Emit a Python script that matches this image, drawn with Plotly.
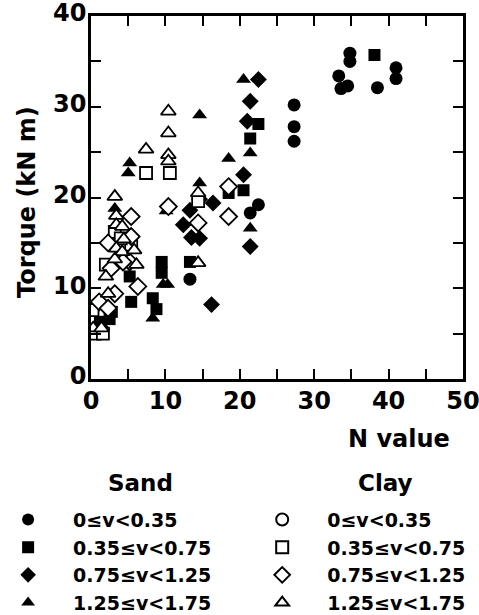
import plotly.graph_objects as go

# Torque vs. N value, grouped by soil type and velocity class v
sand_circle_n = [27.3, 27.3, 27.3, 33.3, 33.6, 34.5, 34.8, 34.8, 38.5, 41.0, 41.0, 21.4, 22.5, 13.3]
sand_circle_t = [30.2, 27.8, 26.2, 33.4, 32.0, 32.3, 35.9, 35.0, 32.1, 34.3, 33.1, 18.3, 19.2, 11.0]

sand_square_n = [38.1, 22.5, 21.4, 18.5, 20.5, 13.3, 9.5, 9.5, 8.3, 8.8, 5.4, 5.2, 2.5, 2.8, 1.2]
sand_square_t = [35.7, 28.1, 26.5, 20.5, 20.8, 12.9, 12.9, 11.7, 8.9, 7.7, 8.5, 11.3, 6.6, 7.4, 6.3]

sand_diamond_n = [22.5, 21.4, 21.0, 20.5, 21.4, 16.4, 12.4, 13.3, 13.5, 14.6, 16.2, 14.6]
sand_diamond_t = [33.0, 30.6, 28.4, 22.5, 14.6, 19.4, 17.0, 18.6, 15.6, 15.5, 8.2, 19.8]

sand_triangle_n = [20.5, 14.6, 18.5, 21.4, 21.4, 14.6, 10.1, 5.2, 5.0, 3.2, 3.2, 9.7, 10.3, 8.3, 0.3, 1.6, 4.3]
sand_triangle_t = [33.0, 29.1, 24.3, 24.9, 16.6, 21.6, 18.5, 23.8, 22.7, 18.8, 12.6, 10.4, 10.4, 6.7, 5.6, 5.8, 12.6]

clay_circle_n = []
clay_circle_t = []

clay_square_n = [10.6, 7.4, 3.2, 5.4, 2.0, 0.2, 0.5, 1.6, 14.4, 4.0]
clay_square_t = [22.7, 22.7, 16.2, 14.8, 12.6, 7.6, 5.0, 5.0, 19.6, 15.5]

clay_diamond_n = [10.4, 18.5, 18.5, 14.4, 5.4, 2.3, 3.2, 6.3, 1.1, 2.3, 5.2, 5.4, 4.3, 2.7]
clay_diamond_t = [19.0, 21.2, 17.9, 17.2, 17.9, 15.0, 9.4, 10.2, 8.5, 7.8, 12.9, 15.7, 12.9, 12.2]

clay_triangle_n = [10.4, 10.4, 10.4, 10.4, 7.4, 3.2, 3.4, 3.4, 4.2, 4.4, 3.4, 4.2, 5.8, 14.4, 14.4,
                   6.1, 2.0, 2.3, 0.3, 1.4, 3.2]
clay_triangle_t = [29.5, 27.1, 24.7, 24.0, 25.3, 20.1, 18.0, 17.0, 16.8, 15.4, 14.4, 14.0, 14.2, 12.8, 20.5,
                   12.6, 11.3, 9.4, 5.6, 5.6, 13.2]

class_labels = ["0\u2264v<0.35", "0.35\u2264v<0.75", "0.75\u2264v<1.25", "1.25\u2264v<1.75"]

FONT = "DejaVu Sans, sans-serif"

fig = go.Figure()

sand_sets = [
    (sand_circle_n, sand_circle_t, "circle", 13),
    (sand_square_n, sand_square_t, "square", 12),
    (sand_diamond_n, sand_diamond_t, "diamond", 13),
    (sand_triangle_n, sand_triangle_t, "triangle-up", 13),
]
clay_sets = [
    (clay_circle_n, clay_circle_t, "circle", 12),
    (clay_square_n, clay_square_t, "square", 12),
    (clay_diamond_n, clay_diamond_t, "diamond", 13),
    (clay_triangle_n, clay_triangle_t, "triangle-up", 13),
]

for i, (xs, ys, sym, size) in enumerate(sand_sets):
    fig.add_trace(go.Scatter(
        x=xs if xs else [None], y=ys if ys else [None], mode="markers",
        name=class_labels[i], legend="legend", legendgroup=f"s{i}",
        marker=dict(symbol=sym, size=size, color="black", line=dict(width=0)),
    ))

for i, (xs, ys, sym, size) in enumerate(clay_sets):
    fig.add_trace(go.Scatter(
        x=xs if xs else [None], y=ys if ys else [None], mode="markers",
        name=class_labels[i], legend="legend2", legendgroup=f"c{i}",
        marker=dict(symbol=sym, size=size, color="white", line=dict(width=1.8, color="black")),
    ))

axis_common = dict(
    showline=True, linewidth=2.5, linecolor="black", mirror="allticks",
    ticks="inside", ticklen=10, tickwidth=2, tickcolor="black",
    showgrid=False, zeroline=False, dtick=10, automargin=False,
    ticklabeloverflow="allow",
    minor=dict(dtick=5, ticks="inside", ticklen=10, tickwidth=2, tickcolor="black", showgrid=False),
    tickfont=dict(family=FONT, size=24, color="black", weight="bold"),
)

fig.update_xaxes(range=[0, 50], ticklabelstandoff=-2, **axis_common)
fig.update_yaxes(range=[0, 40], ticklabelstandoff=-3, ticklabelshift=-3, **axis_common)

legend_common = dict(
    orientation="v", yanchor="top", xanchor="left",
    font=dict(family=FONT, size=19, color="black", weight="bold"),
    bgcolor="rgba(0,0,0,0)", borderwidth=0, itemwidth=80, tracegroupgap=0,
    itemsizing="constant", itemclick=False, itemdoubleclick=False,
)

title_font = dict(family=FONT, size=24, color="black", weight="bold")
head_font = dict(family=FONT, size=23, color="black", weight="bold")

fig.update_layout(
    width=479, height=615,
    margin=dict(l=91, r=16, t=16, b=236, autoexpand=False),
    paper_bgcolor="white", plot_bgcolor="white",
    showlegend=True,
    legend=dict(x=-0.29, y=-0.335, **legend_common),
    legend2=dict(x=0.393, y=-0.335, **legend_common),
    annotations=[
        dict(text="Torque (kN m)", x=-0.172, y=0.4876, xref="paper", yref="paper",
             xanchor="center", yanchor="middle", textangle=-90, showarrow=False,
             font=title_font),
        dict(text="N value", x=0.97, y=-0.165, xref="paper", yref="paper",
             xanchor="right", yanchor="middle", showarrow=False, font=title_font),
        dict(text="Sand", x=0.133, y=-0.2865, xref="paper", yref="paper",
             xanchor="center", yanchor="middle", showarrow=False, font=head_font),
        dict(text="Clay", x=0.793, y=-0.2865, xref="paper", yref="paper",
             xanchor="center", yanchor="middle", showarrow=False, font=head_font),
    ],
)

fig.write_html("out.html")
